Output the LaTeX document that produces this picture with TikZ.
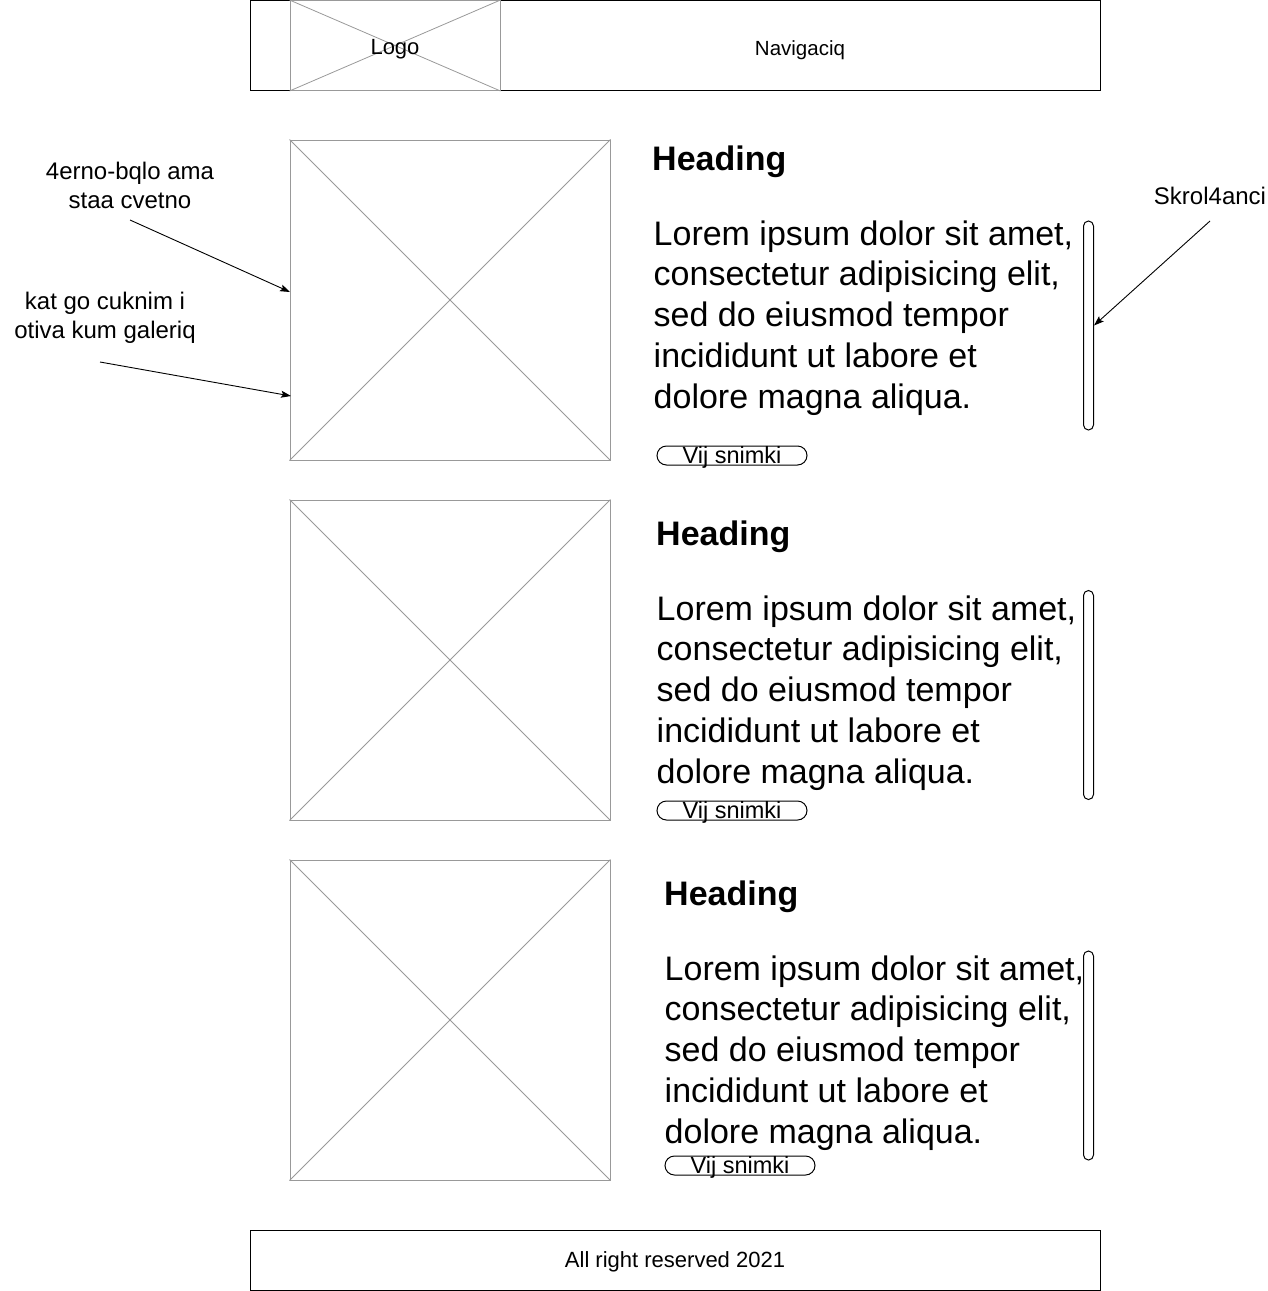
\documentclass[tikz,border=0pt]{standalone}
\usepackage{fontspec}
\setmainfont{Liberation Sans}
\usetikzlibrary{arrows.meta}
\definecolor{mockgray}{HTML}{999999}
\begin{document}
\begin{tikzpicture}[x=1pt,y=-1pt,
  frame/.style={draw=black, line width=1pt, inner sep=0pt},
  mock/.style={draw=mockgray, line width=1pt, inner sep=0pt, minimum width=320pt, minimum height=320pt},
  mockline/.style={draw=mockgray, line width=0.8pt},
  smalltxt/.style={inner sep=0pt, font=\fontsize{21}{25}\selectfont},
  anntxt/.style={inner sep=0pt, align=center, font=\fontsize{24}{29}\selectfont},
  headtxt/.style={inner sep=0pt, anchor=base west, font=\fontsize{34}{40}\selectfont\bfseries},
  bodytxt/.style={inner sep=0pt, anchor=base west, font=\fontsize{34}{40.75}\selectfont},
  btn/.style={draw=black, line width=1pt, inner sep=0pt, minimum width=150pt, minimum height=19pt, rounded corners=9.5pt, text height=17pt, text depth=1pt, font=\fontsize{23.5}{28}\selectfont},
  scrollbar/.style={draw=black, line width=1pt, inner sep=0pt, minimum width=10pt, minimum height=209pt, rounded corners=5pt},
  arr/.style={draw=black, line width=0.9pt, -{Stealth[length=10pt,width=7pt,inset=2pt]}}
]
\useasboundingbox (0,0) rectangle (1267,1291);

% header
\node[frame, minimum width=850pt, minimum height=90pt] (header) at (675,45.5) {};
\node[draw=mockgray, line width=1pt, inner sep=0pt, minimum width=210pt, minimum height=90pt] (logo) at (395,45.5) {};
\draw[mockline] (logo.north west) -- (logo.south east);
\draw[mockline] (logo.south west) -- (logo.north east);
\node[smalltxt, font=\fontsize{22}{26}\selectfont] (logotext) at (395,49) {Logo};
\node[smalltxt, font=\fontsize{20.5}{25}\selectfont] (nav) at (800,50.5) {Navigaciq};

% image placeholders
\foreach \i/\y in {1/300,2/660,3/1020}{
  \node[mock] (img\i) at (450,\y) {};
  \draw[mockline] (img\i.north west) -- (img\i.south east);
  \draw[mockline] (img\i.south west) -- (img\i.north east);
}

% headings
\node[headtxt] (head1) at (652,170) {Heading};
\node[headtxt] (head2) at (656,545) {Heading};
\node[headtxt] (head3) at (664,905) {Heading};

% body texts
\node[bodytxt] (body1) at (653.5,245) {\parbox[t]{500pt}{\raggedright Lorem ipsum dolor sit amet,\\consectetur adipisicing elit,\\sed do eiusmod tempor\\incididunt ut labore et\\dolore magna aliqua.}};
\node[bodytxt] (body2) at (656.5,620) {\parbox[t]{500pt}{\raggedright Lorem ipsum dolor sit amet,\\consectetur adipisicing elit,\\sed do eiusmod tempor\\incididunt ut labore et\\dolore magna aliqua.}};
\node[bodytxt] (body3) at (664.5,980) {\parbox[t]{500pt}{\raggedright Lorem ipsum dolor sit amet,\\consectetur adipisicing elit,\\sed do eiusmod tempor\\incididunt ut labore et\\dolore magna aliqua.}};

% buttons
\node[btn] (btn1) at (732,455.5) {Vij snimki};
\node[btn] (btn2) at (732,810.5) {Vij snimki};
\node[btn] (btn3) at (740,1165.5) {Vij snimki};

% scrollbars
\node[scrollbar] (scroll1) at (1088.5,325.5) {};
\node[scrollbar] (scroll2) at (1088.5,695) {};
\node[scrollbar] (scroll3) at (1088.5,1055.5) {};

% annotations
\node[anntxt] (ann1) at (130,185) {4erno-bqlo ama\\staa cvetno};
\node[anntxt] (ann2) at (105,318) {kat go cuknim i\\otiva kum galeriq};
\node[anntxt] (ann3) at (1210,196) {Skrol4anci};

\coordinate (a1s) at (130,220);
\coordinate (a1e) at (290,292);
\coordinate (a2s) at (100,362);
\coordinate (a2e) at (291,396);
\coordinate (a3s) at (1210,221);
\draw[arr] (a1s) -- (a1e);
\draw[arr] (a2s) -- (a2e);
\draw[arr] (a3s) -- (scroll1.east);

% footer
\node[frame, minimum width=850pt, minimum height=60pt] (footer) at (675,1260) {};
\node[smalltxt, font=\fontsize{22}{26}\selectfont] (foottext) at (675,1261.5) {All right reserved 2021};
\end{tikzpicture}
\end{document}
